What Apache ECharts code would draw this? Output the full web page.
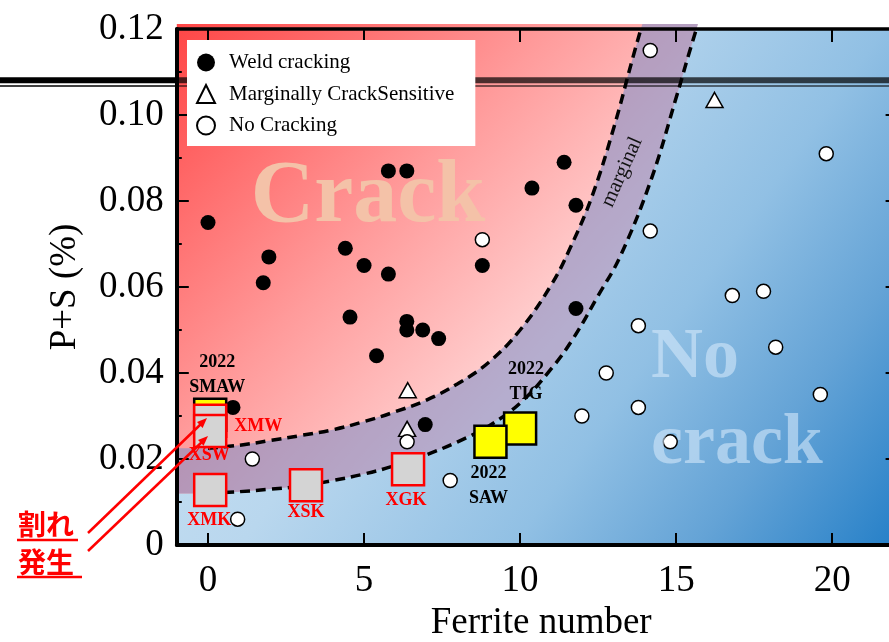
<!DOCTYPE html>
<html><head><meta charset="utf-8">
<script src="https://cdn.jsdelivr.net/npm/echarts@6/dist/echarts.min.js"></script>
<style>html,body{margin:0;padding:0;background:#fff}#c{width:889px;height:642px}</style>
</head><body><div id="c"></div>
<script>
// ---------- data ----------
const xTicks = [0, 5, 10, 15, 20];
const xMin = -1, xMax = 22, yMin = 0, yMax = 0.12;

const weldCracking = [
  [0.0,0.075],[0.8,0.032],[1.95,0.067],[1.77,0.061],[4.4,0.069],[5.0,0.065],[4.55,0.053],
  [5.78,0.087],[6.37,0.087],[5.78,0.063],[5.4,0.044],[6.37,0.052],[6.37,0.050],[6.88,0.050],
  [7.39,0.048],[6.96,0.028],[8.79,0.065],[10.38,0.083],[11.41,0.089],[11.79,0.079],[11.79,0.055]
];
const marginallySensitive = [[6.4,0.036],[6.38,0.027],[16.23,0.1035]];
const noCracking = [
  [8.79,0.071],[14.17,0.115],[14.17,0.073],[19.81,0.091],[13.79,0.051],[16.8,0.058],[17.8,0.059],
  [18.19,0.046],[12.76,0.040],[11.98,0.030],[13.79,0.032],[19.62,0.035],[14.81,0.024],[6.38,0.024],
  [7.76,0.015],[1.42,0.020],[0.95,0.006]
];
const upperCurve = [
  [0,0.0225],[1,0.0232],[2,0.0243],[3,0.0255],[4,0.0268],[5,0.0287],[6,0.031],[7,0.0337],[8,0.0375],
  [9,0.0425],[10,0.05],[11,0.0605],[11.6,0.069],[12.3,0.081],[13.0,0.097],[13.6,0.113],[13.87,0.12]
];
const lowerCurve = [
  [0,0.012],[1,0.0124],[2,0.013],[3,0.0137],[4,0.015],[5,0.0165],[6,0.0185],[7,0.021],[8,0.024],
  [9,0.0277],[10,0.033],[11,0.041],[11.7,0.048],[12.5,0.058],[13.2,0.067],[14.2,0.085],[15.0,0.104],
  [15.4,0.114],[15.65,0.12]
];
const names2022 = ['SMAW', 'TIG', 'SAW'];
const values2022 = [[0.07,0.0303],[10.0,0.0271],[9.05,0.024]];
const namesTest = ['XMW', 'XSW', 'XMK', 'XSK', 'XGK'];
const valuesTest = [[0.07,0.0289],[0.07,0.0265],[0.07,0.0128],[3.14,0.0139],[6.41,0.0176]];

// ---------- styling ----------
const SERIF = '"Liberation Serif", "Times New Roman", serif';
const labelOffsets = {
  SMAW:[7,-40], TIG:[6,-47], SAW:[-2,44],
  XMW:[48,6], XSW:[-1,24], XMK:[-1,30], XSK:[0,27], XGK:[-2,31]
};

function bgRender(params, api) {
  const tl = api.coord([xMin, yMax]);
  const br = api.coord([xMax, yMin]);
  const up = upperCurve.map(p => api.coord(p));
  const lo = lowerCurve.map(p => api.coord(p));
  const topExt = tl[1] - 5;
  const upEnd = up[up.length - 1], loEnd = lo[lo.length - 1];
  const red = [[tl[0], topExt], [loEnd[0] + 1.5, topExt]];
  for (let i = lo.length - 1; i >= 0; i--) red.push(lo[i]);
  red.push([tl[0], lo[0][1]]);
  const band = [[tl[0], up[0][1]]];
  up.forEach(p => band.push(p));
  band.push([upEnd[0] + 1.5, topExt]);
  band.push([loEnd[0] + 1.5, topExt]);
  for (let i = lo.length - 1; i >= 0; i--) band.push(lo[i]);
  band.push([tl[0], lo[0][1]]);
  return {
    type: 'group',
    children: [
      { type: 'rect', shape: { x: tl[0], y: tl[1], width: br[0] - tl[0], height: br[1] - tl[1] },
        style: { fill: { type: 'linear', x: 0, y: 0, x2: 1, y2: 1, colorStops: [
          { offset: 0, color: '#d2e6f5' }, { offset: 0.4, color: '#b9d7ee' },
          { offset: 0.65, color: '#91c0e4' }, { offset: 0.82, color: '#64a3d6' },
          { offset: 1, color: '#2680c8' } ] } } },
      { type: 'polygon', shape: { points: red },
        style: { fill: { type: 'linear', x: 0, y: 0, x2: 1, y2: 1, colorStops: [
          { offset: 0, color: '#ff4646' }, { offset: 0.4, color: '#ff9b9b' },
          { offset: 0.7, color: '#ffd4d4' }, { offset: 1, color: '#ffe2e2' } ] } } },
      { type: 'polygon', shape: { points: band }, style: { fill: 'rgba(120,140,200,0.55)' } }
    ]
  };
}

function squareData(names, values, color) {
  return values.map((v, i) => ({
    value: v,
    name: names[i],
    label: { offset: labelOffsets[names[i]], color: color }
  }));
}

const axisFont = { fontFamily: SERIF, fontSize: 37, color: '#000' };

const option = {
  animation: false,
  backgroundColor: '#fff',
  grid: { left: 176.8, right: -5.6, top: 29, bottom: 97, containLabel: false, outerBoundsMode: 'none' },
  xAxis: [
    { type: 'value', min: xMin, max: xMax, position: 'bottom', z: 5,
      axisLine: { onZero: false, lineStyle: { color: '#000', width: 4 } },
      axisTick: { inside: true, length: 12, customValues: xTicks, lineStyle: { color: '#000', width: 2 } },
      axisLabel: Object.assign({ customValues: xTicks, margin: 18 }, axisFont),
      splitLine: { show: false },
      name: 'Ferrite number', nameLocation: 'middle', nameGap: 57,
      nameTextStyle: Object.assign({ padding: [0, 0, 0, 11] }, axisFont) },
    { type: 'value', min: xMin, max: xMax, position: 'top', z: 5,
      axisLine: { onZero: false, lineStyle: { color: '#000', width: 3.5 } },
      axisTick: { inside: true, length: 13, customValues: xTicks, lineStyle: { color: '#000', width: 2 } },
      axisLabel: { show: false }, splitLine: { show: false } }
  ],
  yAxis: [
    { type: 'value', min: yMin, max: yMax, interval: 0.02, position: 'left', z: 5,
      axisLine: { onZero: false, lineStyle: { color: '#000', width: 4 } },
      axisTick: { inside: true, length: 12, lineStyle: { color: '#000', width: 2 } },
      minorTick: { show: true, splitNumber: 2, length: 5, lineStyle: { color: '#000', width: 2 } },
      axisLabel: Object.assign({ margin: 13, formatter: v => (v === 0 ? '0' : v.toFixed(2)) }, axisFont),
      splitLine: { show: false }, minorSplitLine: { show: false },
      name: 'P+S (%)', nameLocation: 'middle', nameGap: 93, nameRotate: 90,
      nameTextStyle: axisFont },
    { type: 'value', min: yMin, max: yMax, interval: 0.02, position: 'right', z: 5,
      axisLine: { onZero: false, lineStyle: { color: '#000', width: 3 } },
      axisTick: { inside: true, length: 9, lineStyle: { color: '#000', width: 2 } },
      minorTick: { show: true, splitNumber: 2, length: 3, lineStyle: { color: '#000', width: 2 } },
      axisLabel: { show: false }, splitLine: { show: false }, minorSplitLine: { show: false } }
  ],
  legend: {
    data: ['Weld cracking', 'Marginally CrackSensitive', 'No Cracking'],
    orient: 'vertical', left: 187, top: 40, z: 8,
    backgroundColor: '#fff', padding: [12, 21, 10, 9],
    itemWidth: 18, itemHeight: 18, itemGap: 10.5, selectedMode: false,
    textStyle: { fontFamily: SERIF, fontSize: 21, color: '#000', lineHeight: 20, padding: [0, 0, 0, 9] }
  },
  series: [
    { type: 'custom', name: 'bg', z: 0, silent: true, renderItem: bgRender, data: [[0, 0]],
      xAxisIndex: 0, yAxisIndex: 0 },
    { type: 'line', name: 'upper', data: upperCurve, smooth: 0.4, symbol: 'none', silent: true, z: 2,
      lineStyle: { color: '#000', width: 3.5, type: [10, 6] } },
    { type: 'line', name: 'lower', data: lowerCurve, smooth: 0.4, symbol: 'none', silent: true, z: 2,
      lineStyle: { color: '#000', width: 3.5, type: [10, 6] } },
    { type: 'scatter', name: 'Weld cracking', data: weldCracking, symbol: 'circle', symbolSize: 15, z: 3,
      itemStyle: { color: '#000', opacity: 1 } },
    { type: 'scatter', name: 'Marginally CrackSensitive', data: marginallySensitive, symbol: 'triangle',
      symbolSize: [17, 15], z: 3, itemStyle: { color: '#fff', borderColor: '#000', borderWidth: 1.5, opacity: 1 } },
    { type: 'scatter', name: 'No Cracking', data: noCracking, symbol: 'circle', symbolSize: 14, z: 3,
      itemStyle: { color: '#fff', borderColor: '#000', borderWidth: 1.5, opacity: 1 } },
    { type: 'scatter', name: 'y2022', data: squareData(names2022, values2022, '#000'), symbol: 'rect',
      symbolSize: 32, z: 4, itemStyle: { color: '#ffff00', borderColor: '#000', borderWidth: 2.5, opacity: 1 },
      label: { show: true, position: 'inside', fontFamily: SERIF, fontWeight: 'bold', fontSize: 18,
        lineHeight: 25, formatter: p => '2022\n' + p.name } },
    { type: 'scatter', name: 'tests', data: squareData(namesTest, valuesTest, '#ff0000'), symbol: 'rect',
      symbolSize: 32, z: 4, itemStyle: { color: '#d4d4d4', borderColor: '#ff0000', borderWidth: 2.5, opacity: 1 },
      label: { show: true, position: 'inside', fontFamily: SERIF, fontWeight: 'bold', fontSize: 18,
        formatter: p => p.name } }
  ],
  graphic: [
    { type: 'text', z: 1, x: 368, y: 198, silent: true,
      style: { text: 'Crack', font: 'bold 88px ' + SERIF, fill: '#f4c2a8',
        align: 'center', textAlign: 'center', verticalAlign: 'middle', textVerticalAlign: 'middle' } },
    { type: 'text', z: 6, x: 651, y: 358, silent: true,
      style: { text: 'No', font: 'bold 72px ' + SERIF, fill: 'rgba(212,232,250,0.6)',
        align: 'left', textAlign: 'left', verticalAlign: 'middle', textVerticalAlign: 'middle' } },
    { type: 'text', z: 6, x: 651, y: 444, silent: true,
      style: { text: 'crack', font: 'bold 72px ' + SERIF, fill: 'rgba(212,232,250,0.6)',
        align: 'left', textAlign: 'left', verticalAlign: 'middle', textVerticalAlign: 'middle' } },
    { type: 'text', z: 2, x: 622, y: 172, rotation: 66 * Math.PI / 180, silent: true,
      style: { text: 'marginal', font: '21px ' + SERIF, fill: '#111',
        align: 'center', textAlign: 'center', verticalAlign: 'middle', textVerticalAlign: 'middle' } },
    // horizontal double rule
    { type: 'line', z: 7, silent: true, shape: { x1: 0, y1: 80.3, x2: 177, y2: 80.3 }, style: { stroke: '#000', lineWidth: 6 } },
    { type: 'line', z: 7, silent: true, shape: { x1: 177, y1: 80.3, x2: 889, y2: 80.3 }, style: { stroke: 'rgba(0,0,0,0.7)', lineWidth: 6 } },
    { type: 'line', z: 7, silent: true, shape: { x1: 0, y1: 86, x2: 177, y2: 86 }, style: { stroke: '#000', lineWidth: 1.5 } },
    { type: 'line', z: 7, silent: true, shape: { x1: 177, y1: 86, x2: 889, y2: 86 }, style: { stroke: 'rgba(0,0,0,0.7)', lineWidth: 1.5 } },
    // callout
    { type: 'line', z: 9, silent: true, shape: { x1: 88, y1: 533, x2: 202, y2: 423 }, style: { stroke: '#ff0000', lineWidth: 2.5 } },
    { type: 'polygon', z: 9, silent: true, shape: { points: [[207, 418], [202.6, 427.9], [197.0, 422.1]] }, style: { fill: '#ff0000' } },
    { type: 'line', z: 9, silent: true, shape: { x1: 88, y1: 551, x2: 203, y2: 441 }, style: { stroke: '#ff0000', lineWidth: 2.5 } },
    { type: 'polygon', z: 9, silent: true, shape: { points: [[208, 436], [203.6, 445.8], [198.0, 440.0]] }, style: { fill: '#ff0000' } },
    { type: 'text', z: 9, x: 18, y: 524, silent: true,
      style: { text: '割れ', font: 'bold 28px "Noto Sans CJK JP"', fill: '#ff0000',
        align: 'left', textAlign: 'left', verticalAlign: 'middle', textVerticalAlign: 'middle' } },
    { type: 'text', z: 9, x: 18, y: 562, silent: true,
      style: { text: '発生', font: 'bold 28px "Noto Sans CJK JP"', fill: '#ff0000',
        align: 'left', textAlign: 'left', verticalAlign: 'middle', textVerticalAlign: 'middle' } },
    { type: 'line', z: 9, silent: true, shape: { x1: 17, y1: 540, x2: 78, y2: 540 }, style: { stroke: '#ff0000', lineWidth: 2.5 } },
    { type: 'line', z: 9, silent: true, shape: { x1: 17, y1: 577, x2: 82, y2: 577 }, style: { stroke: '#ff0000', lineWidth: 2.5 } }
  ]
};

const chart = echarts.init(document.getElementById('c'), null, { renderer: 'canvas', devicePixelRatio: 1 });
chart.setOption(option);
</script>
</body></html>
